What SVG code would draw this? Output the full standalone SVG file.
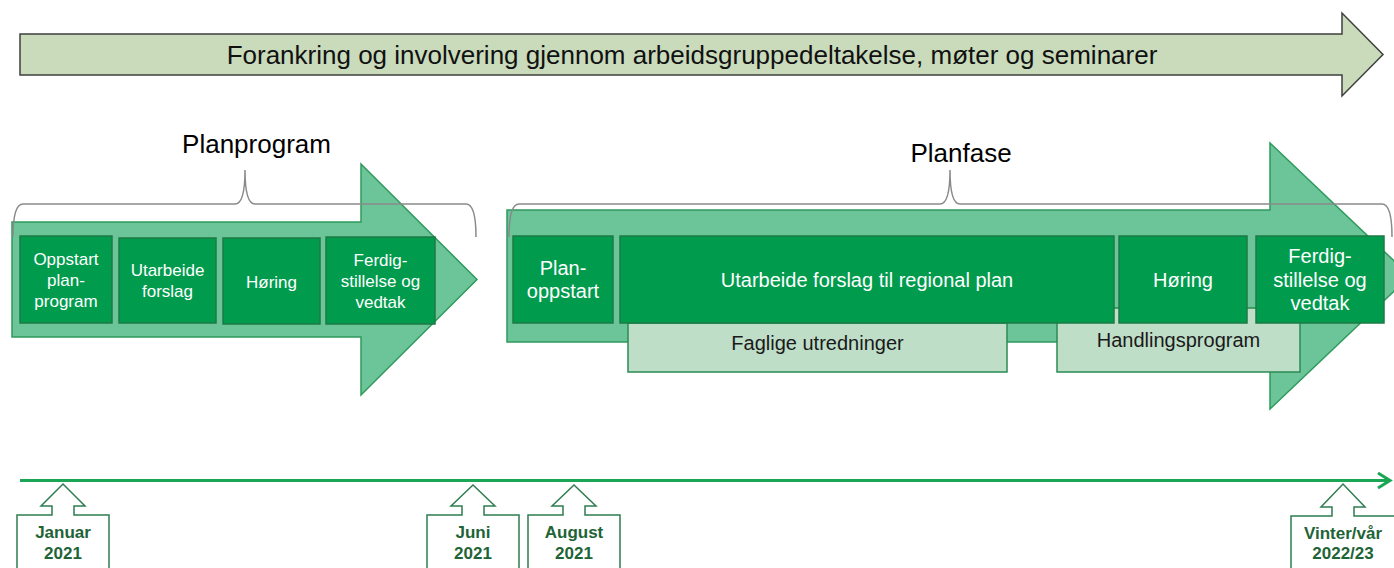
<svg xmlns="http://www.w3.org/2000/svg" width="1394" height="568" viewBox="0 0 1394 568">
<style>
text{font-family:"Liberation Sans",Arial,sans-serif}
.big{fill:#6cc598;stroke:#2e9a5c;stroke-width:1.5}
.dark{fill:#009b4d;stroke:#1d7a44;stroke-width:1.5}
.light{fill:#bfdec8;stroke:#2b8a53;stroke-width:1.5}
.wt{fill:#fff;text-anchor:middle}
.s17{font-size:17px}
.s20{font-size:20px}
.bt{fill:#1a1a1a;text-anchor:middle;font-size:20px}
.brace{fill:none;stroke:#8a8a8a;stroke-width:1.5}
.title{fill:#000;text-anchor:middle;font-size:26px}
.call{fill:#fff;stroke:#2e7d50;stroke-width:1.5}
.ct{fill:#1e6436;font-weight:bold;font-size:17px;text-anchor:middle}
</style>
<g id="top-arrow">
<path d="M20,34 H1342 V13 L1383,54.5 L1342,96 V75 H20 Z" fill="#c9dbbb" stroke="#3f3f3f" stroke-width="1.5"/>
<text x="692" y="64" text-anchor="middle" font-size="26" fill="#111">Forankring og involvering gjennom arbeidsgruppedeltakelse, møter og seminarer</text>
</g>
<g id="planprogram">
<path class="big" d="M12,222 H361 V164 L477,279.5 L361,395 V337 H12 Z"/>
<g id="pp-oppstart"><rect class="dark" x="20" y="236" width="92" height="87"/>
<text class="wt s17" x="66"><tspan x="66" y="265">Oppstart</tspan><tspan x="66" y="286">plan-</tspan><tspan x="66" y="307">program</tspan></text></g>
<g id="pp-utarbeide"><rect class="dark" x="119" y="238" width="97" height="85"/>
<text class="wt s17"><tspan x="167.5" y="276">Utarbeide</tspan><tspan x="167.5" y="297">forslag</tspan></text></g>
<g id="pp-horing"><rect class="dark" x="223" y="238" width="97" height="86"/>
<text class="wt s17" x="271.5" y="288">Høring</text></g>
<g id="pp-ferdig"><rect class="dark" x="326" y="237" width="109" height="87"/>
<text class="wt s17"><tspan x="380.5" y="266">Ferdig-</tspan><tspan x="380.5" y="287">stillelse og</tspan><tspan x="380.5" y="308">vedtak</tspan></text></g>
<path class="brace" d="M13,237 Q13,204 23,204 H235 Q245,204 245,170 Q245,204 255,204 H466 Q476,204 476,237"/>
<text class="title" x="256.5" y="153">Planprogram</text>
</g>
<g id="planfase">
<path class="big" d="M507,210 H1270 V143 L1410,276 L1270,409 V342 H507 Z"/>
<g id="pf-faglige"><rect class="light" x="628" y="323" width="379" height="49"/>
<text class="bt" x="817.5" y="350">Faglige utredninger</text></g>
<g id="pf-handling"><rect class="light" x="1057" y="308" width="243" height="64"/>
<text class="bt" x="1178.5" y="347">Handlingsprogram</text></g>
<g id="pf-oppstart"><rect class="dark" x="513" y="236" width="100" height="87"/>
<text class="wt s20"><tspan x="563" y="275">Plan-</tspan><tspan x="563" y="298">oppstart</tspan></text></g>
<g id="pf-utarbeide"><rect class="dark" x="620" y="236" width="494" height="87"/>
<text class="wt s20" x="867" y="287">Utarbeide forslag til regional plan</text></g>
<g id="pf-horing"><rect class="dark" x="1119" y="236" width="128" height="87"/>
<text class="wt s20" x="1183" y="287">Høring</text></g>
<g id="pf-ferdig"><rect class="dark" x="1256" y="236" width="128" height="87"/>
<text class="wt s20"><tspan x="1320" y="263">Ferdig-</tspan><tspan x="1320" y="287">stillelse og</tspan><tspan x="1320" y="310">vedtak</tspan></text></g>
<path class="brace" d="M509,237 Q509,204 519,204 H940 Q950,204 950,170 Q950,204 960,204 H1382 Q1392,204 1392,237"/>
<text class="title" x="961" y="162">Planfase</text>
</g>
<g id="connectors">
<line x1="20" y1="480.5" x2="1389" y2="480.5" stroke="#1aa654" stroke-width="3"/>
<path d="M1378,473 L1390,480.5 L1378,488" fill="none" stroke="#1aa654" stroke-width="3"/>
</g>
<g id="m-januar">
<path class="call" d="M17,580 V515 H52 V506 H41 L63,484 L85,506 H74 V515 H109 V580 Z"/>
<text class="ct"><tspan x="63" y="538">Januar</tspan><tspan x="63" y="559">2021</tspan></text>
</g>
<g id="m-juni">
<path class="call" d="M427,580 V515 H462 V506 H451 L473,485 L495,506 H484 V515 H519 V580 Z"/>
<text class="ct"><tspan x="473" y="538">Juni</tspan><tspan x="473" y="559">2021</tspan></text>
</g>
<g id="m-august">
<path class="call" d="M528,580 V515 H563 V506 H552 L574,485 L596,506 H585 V515 H620 V580 Z"/>
<text class="ct"><tspan x="574" y="538">August</tspan><tspan x="574" y="559">2021</tspan></text>
</g>
<g id="m-vinter">
<path class="call" d="M1291,580 V516 H1332 V507 H1321 L1343,484 L1365,507 H1354 V516 H1395 V580 Z"/>
<text class="ct"><tspan x="1343" y="539">Vinter/vår</tspan><tspan x="1343" y="559">2022/23</tspan></text>
</g>
</svg>
